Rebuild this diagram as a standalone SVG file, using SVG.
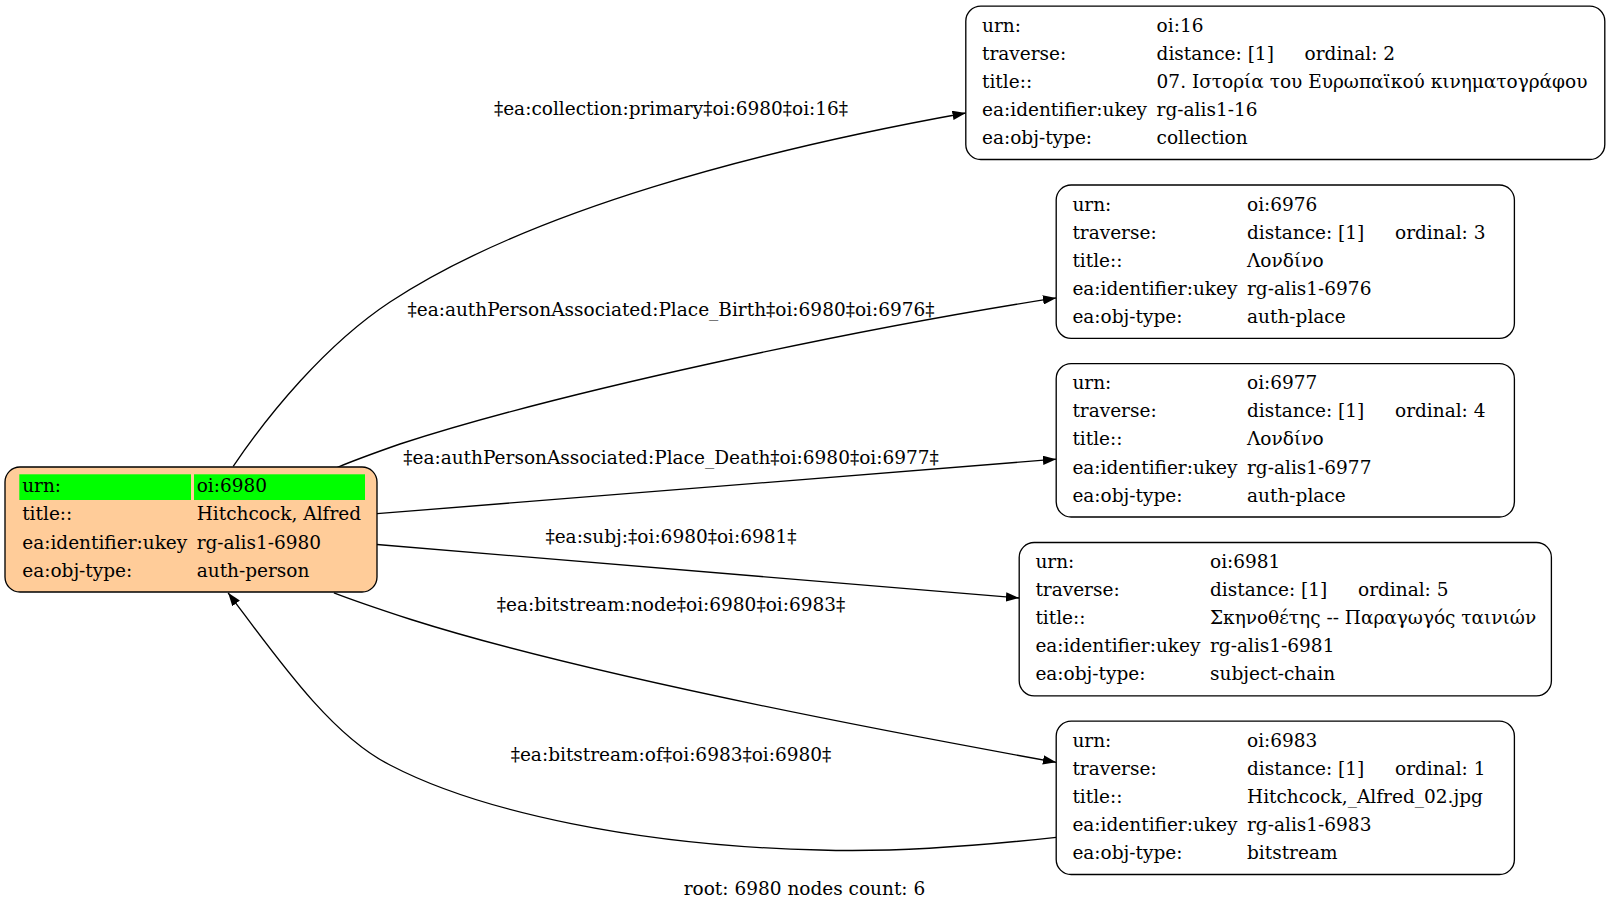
<svg xmlns="http://www.w3.org/2000/svg" width="1611" height="911" viewBox="0 0 1611 911">
<style>
text{font-family:"DejaVu Serif","Liberation Serif",serif;font-size:18.5px;fill:#000}
.lbl{text-anchor:middle}
.box{fill:#fff;stroke:#000;stroke-width:1.33}
.main{fill:#ffcc99;stroke:#000;stroke-width:1.33}
.hl{fill:#00ff00}
.edge{fill:none;stroke:#000;stroke-width:1.33}
</style>
<defs>
<marker id="arr" viewBox="0 0 13.3 9.4" refX="13.3" refY="4.7" markerWidth="13.3" markerHeight="9.4" markerUnits="userSpaceOnUse" orient="auto">
<path d="M0,0 L13.3,4.7 L0,9.4 Z" fill="#000"/>
</marker>
</defs>
<rect width="1611" height="911" fill="#fff"/>
<g id="connectors">
<path class="edge" marker-end="url(#arr)" d="M233.2,466.4 C268,415 325,345 390,302 C530,210 760,150 965.8,113"/>
<path class="edge" marker-end="url(#arr)" d="M337,467.5 C355,460 380,451 400,444 C560,392 850,330 1056.2,297.9"/>
<path class="edge" marker-end="url(#arr)" d="M377,513.7 L1056.2,459.2"/>
<path class="edge" marker-end="url(#arr)" d="M377,544.5 L1019.2,598"/>
<path class="edge" marker-end="url(#arr)" d="M333.9,592.8 C355,601 385,611 411,619.5 C570,670 850,725 1056.2,762.3"/>
<path class="edge" marker-end="url(#arr)" d="M1056.2,837.3 C960,848 880,852 820,850 C640,846 480,812 390,765 C330,735 275,655 228.1,592.8"/>
<text class="lbl" x="671" y="114.5">‡ea:collection:primary‡oi:6980‡oi:16‡</text>
<text class="lbl" x="671" y="315.8">‡ea:authPersonAssociated:Place_Birth‡oi:6980‡oi:6976‡</text>
<text class="lbl" x="671" y="463.8">‡ea:authPersonAssociated:Place_Death‡oi:6980‡oi:6977‡</text>
<text class="lbl" x="671" y="542.9">‡ea:subj:‡oi:6980‡oi:6981‡</text>
<text class="lbl" x="671" y="610.7">‡ea:bitstream:node‡oi:6980‡oi:6983‡</text>
<text class="lbl" x="671" y="760.7">‡ea:bitstream:of‡oi:6983‡oi:6980‡</text>
</g>
<g id="node-6980">
<rect class="main" x="5" y="467" width="372" height="125" rx="15"/>
<rect class="hl" x="19.3" y="474.3" width="171.7" height="25.7"/>
<rect class="hl" x="194" y="474.3" width="171" height="25.7"/>
<text x="22.2" y="492.3">urn:</text><text x="196.7" y="492.3">oi:6980</text>
<text x="22.2" y="520.4">title::</text><text x="196.7" y="520.4">Hitchcock, Alfred</text>
<text x="22.2" y="548.5">ea:identifier:ukey</text><text x="196.7" y="548.5">rg-alis1-6980</text>
<text x="22.2" y="576.6">ea:obj-type:</text><text x="196.7" y="576.6">auth-person</text>
</g>
<g id="node-16">
<rect class="box" x="965.8" y="6.2" width="639" height="153.3" rx="15"/>
<text x="982" y="31.7">urn:</text><text x="1156.6" y="31.7">oi:16</text>
<text x="982" y="59.8">traverse:</text><text x="1156.6" y="59.8">distance: [1]</text><text x="1304.6" y="59.8">ordinal: 2</text>
<text x="982" y="87.9">title::</text><text x="1156.6" y="87.9">07. Ιστορία του Ευρωπαϊκού κινηματογράφου</text>
<text x="982" y="116">ea:identifier:ukey</text><text x="1156.6" y="116">rg-alis1-16</text>
<text x="982" y="144.1">ea:obj-type:</text><text x="1156.6" y="144.1">collection</text>
</g>
<g id="node-6976">
<rect class="box" x="1056.2" y="185" width="458.2" height="153.3" rx="15"/>
<text x="1072.4" y="210.5">urn:</text><text x="1247" y="210.5">oi:6976</text>
<text x="1072.4" y="238.6">traverse:</text><text x="1247" y="238.6">distance: [1]</text><text x="1395" y="238.6">ordinal: 3</text>
<text x="1072.4" y="266.7">title::</text><text x="1247" y="266.7">Λονδίνο</text>
<text x="1072.4" y="294.8">ea:identifier:ukey</text><text x="1247" y="294.8">rg-alis1-6976</text>
<text x="1072.4" y="322.9">ea:obj-type:</text><text x="1247" y="322.9">auth-place</text>
</g>
<g id="node-6977">
<rect class="box" x="1056.2" y="363.7" width="458.2" height="153.3" rx="15"/>
<text x="1072.4" y="389.2">urn:</text><text x="1247" y="389.2">oi:6977</text>
<text x="1072.4" y="417.3">traverse:</text><text x="1247" y="417.3">distance: [1]</text><text x="1395" y="417.3">ordinal: 4</text>
<text x="1072.4" y="445.4">title::</text><text x="1247" y="445.4">Λονδίνο</text>
<text x="1072.4" y="473.5">ea:identifier:ukey</text><text x="1247" y="473.5">rg-alis1-6977</text>
<text x="1072.4" y="501.6">ea:obj-type:</text><text x="1247" y="501.6">auth-place</text>
</g>
<g id="node-6981">
<rect class="box" x="1019.2" y="542.5" width="532.2" height="153.3" rx="15"/>
<text x="1035.4" y="568">urn:</text><text x="1210" y="568">oi:6981</text>
<text x="1035.4" y="596.1">traverse:</text><text x="1210" y="596.1">distance: [1]</text><text x="1358" y="596.1">ordinal: 5</text>
<text x="1035.4" y="624.2">title::</text><text x="1210" y="624.2">Σκηνοθέτης -- Παραγωγός ταινιών</text>
<text x="1035.4" y="652.3">ea:identifier:ukey</text><text x="1210" y="652.3">rg-alis1-6981</text>
<text x="1035.4" y="680.4">ea:obj-type:</text><text x="1210" y="680.4">subject-chain</text>
</g>
<g id="node-6983">
<rect class="box" x="1056.2" y="721.2" width="458.2" height="153.3" rx="15"/>
<text x="1072.4" y="746.7">urn:</text><text x="1247" y="746.7">oi:6983</text>
<text x="1072.4" y="774.8">traverse:</text><text x="1247" y="774.8">distance: [1]</text><text x="1395" y="774.8">ordinal: 1</text>
<text x="1072.4" y="802.9">title::</text><text x="1247" y="802.9">Hitchcock,_Alfred_02.jpg</text>
<text x="1072.4" y="831">ea:identifier:ukey</text><text x="1247" y="831">rg-alis1-6983</text>
<text x="1072.4" y="859.1">ea:obj-type:</text><text x="1247" y="859.1">bitstream</text>
</g>
<text class="lbl" x="804.5" y="895.1">root: 6980 nodes count: 6</text>
</svg>
